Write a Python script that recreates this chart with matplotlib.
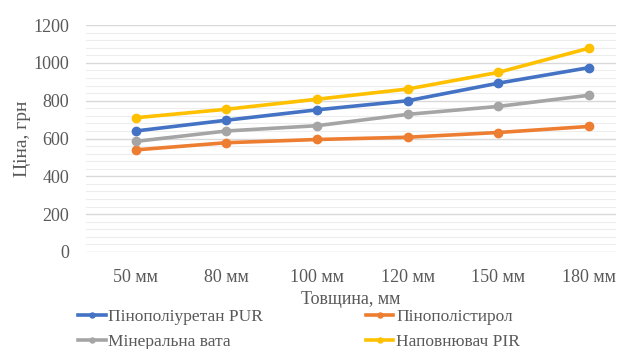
import matplotlib.pyplot as plt
from matplotlib.ticker import MultipleLocator

plt.rcParams['font.family'] = ['Liberation Serif', 'DejaVu Serif']

# Дані
thickness = ['50 мм', '80 мм', '100 мм', '120 мм', '150 мм', '180 мм']
pur = [640, 697, 752, 800, 893, 975]
eps = [540, 578, 595, 607, 632, 664]
wool = [585, 640, 668, 728, 770, 829]
pir = [710, 755, 808, 862, 950, 1078]

series = [
    ('Пінополіуретан PUR', pur, '#4472C4'),
    ('Пінополістирол', eps, '#ED7D31'),
    ('Мінеральна вата', wool, '#A5A5A5'),
    ('Наповнювач PIR', pir, '#FFC000'),
]

txt = '#595959'
fig = plt.figure(figsize=(6.18, 3.49), dpi=100)
ax = fig.add_axes([0.139, 0.278, 0.858, 0.65])

x = range(len(thickness))
lines = {}
for name, vals, col in series:
    lines[name], = ax.plot(x, vals, color=col, lw=2.6, marker='o', ms=6,
                           label=name, zorder=3)

ax.set_ylim(0, 1200)
ax.set_xlim(-0.55, 5.3)
ax.yaxis.set_major_locator(MultipleLocator(200))
ax.yaxis.set_minor_locator(MultipleLocator(40))
ax.grid(which='major', axis='y', color='#D9D9D9', lw=1)
ax.grid(which='minor', axis='y', color='#EDEDED', lw=0.8)
ax.set_xticks(list(x))
ax.set_xticklabels(thickness)
for s in ax.spines.values():
    s.set_visible(False)
ax.tick_params(which='both', length=0, colors=txt, labelsize=13)
ax.tick_params(axis='x', pad=12)
ax.tick_params(axis='y', pad=12)

ax.set_ylabel('Ціна, грн', fontsize=14, color=txt, labelpad=2)
ax.set_xlabel('Товщина, мм', fontsize=13, color=txt, labelpad=4)

# легенда по рядках, як у Excel
order = ['Пінополіуретан PUR', 'Мінеральна вата', 'Пінополістирол', 'Наповнювач PIR']
fig.legend([lines[n] for n in order], order, loc='upper left',
           bbox_to_anchor=(78 / 618, 1 - 309 / 349), ncol=2,
           frameon=False, fontsize=12.5, labelcolor=txt, columnspacing=5.9,
           handlelength=1.6, handletextpad=0.15, labelspacing=0.5,
           borderpad=0, borderaxespad=0, markerscale=0.6)

fig.savefig('out.png', dpi=100)
